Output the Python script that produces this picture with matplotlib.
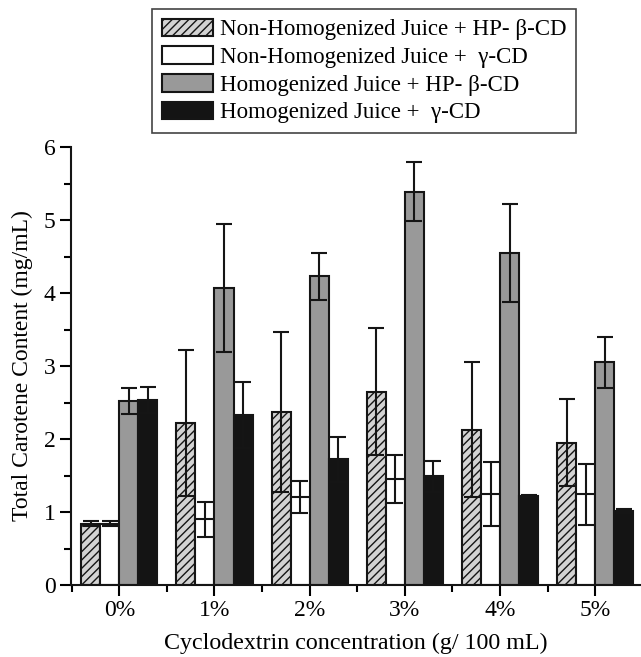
import matplotlib
matplotlib.use("Agg")
import matplotlib.pyplot as plt
import numpy as np
from matplotlib.patches import Patch
from matplotlib.ticker import MultipleLocator, FixedLocator

plt.rcParams['font.family'] = ['Liberation Serif', 'DejaVu Serif']
plt.rcParams['hatch.color'] = '#3a3a3a'
plt.rcParams['hatch.linewidth'] = 1.0

categories = ['0%', '1%', '2%', '3%', '4%', '5%']
series_names = ['Non-Homogenized Juice + HP- \u03b2-CD',
                'Non-Homogenized Juice +  \u03b3-CD',
                'Homogenized Juice + HP- \u03b2-CD',
                'Homogenized Juice +  \u03b3-CD']

nonhomo_hpb = [0.84, 2.22, 2.37, 2.65, 2.13, 1.95]
nonhomo_hpb_err = [0.03, 1.00, 1.10, 0.87, 0.92, 0.60]
nonhomo_g = [0.84, 0.90, 1.21, 1.45, 1.25, 1.24]
nonhomo_g_err = [0.03, 0.24, 0.22, 0.33, 0.44, 0.42]
homo_hpb = [2.52, 4.07, 4.23, 5.39, 4.55, 3.05]
homo_hpb_err = [0.18, 0.88, 0.32, 0.40, 0.67, 0.35]
homo_g = [2.53, 2.33, 1.72, 1.49, 1.22, 1.01]
homo_g_err = [0.18, 0.45, 0.31, 0.21, 0.01, 0.03]

values = [nonhomo_hpb, nonhomo_g, homo_hpb, homo_g]
errors = [nonhomo_hpb_err, nonhomo_g_err, homo_hpb_err, homo_g_err]
faces = ['#d3d3d3', 'white', '#999999', '#141414']
hatches = ['////', None, None, None]
offsets = [-0.3, -0.1, 0.1, 0.3]
width = 0.2

fig = plt.figure(figsize=(6.41, 6.57), dpi=100)
ax = fig.add_axes([71/641, 1 - 585/657, 1 - 71/641, (585 - 147)/657])

x = np.arange(len(categories))
handles = []
for vals, errs, fc, h, off, name in zip(values, errors, faces, hatches, offsets, series_names):
    ax.bar(x + off, vals, width, color=fc, edgecolor='#151515', linewidth=1.5,
           hatch=h, zorder=2)
    ax.errorbar(x + off, vals, yerr=errs, fmt='none', ecolor='#151515',
                elinewidth=1.5, capsize=5.5, capthick=1.5, zorder=3)
    handles.append(Patch(facecolor=fc, edgecolor='#151515', linewidth=1.5,
                         hatch=h, label=name))

ax.set_xlim(-0.507, 5.48)
ax.set_ylim(0, 6)
ax.set_xticks(x)
ax.set_xticklabels(categories)
ax.xaxis.set_minor_locator(FixedLocator(np.arange(-0.5, 5.6, 1.0)))
ax.yaxis.set_major_locator(MultipleLocator(1))
ax.yaxis.set_minor_locator(MultipleLocator(0.5))
for s in ['top', 'right']:
    ax.spines[s].set_visible(False)
for s in ['left', 'bottom']:
    ax.spines[s].set_linewidth(1.5)
    ax.spines[s].set_color('#151515')
ax.tick_params(which='major', direction='out', length=8, width=1.5, labelsize=17, pad=3)
ax.tick_params(which='minor', direction='out', length=5, width=1.5)
ax.set_xlabel('Cyclodextrin concentration (g/ 100 mL)', fontsize=17.3, labelpad=8)
ax.set_ylabel('Total Carotene Content (mg/mL)', fontsize=17, labelpad=8)

leg = fig.legend(handles=handles, loc='upper left', bbox_to_anchor=(152/641, 1 - 9/657),
                 fontsize=16.5, frameon=True, fancybox=False, edgecolor='#151515',
                 handlelength=2.25, handleheight=0.8, handletextpad=0.3,
                 labelspacing=0.26, borderpad=0.42, borderaxespad=0)
leg.get_frame().set_linewidth(1.2)

fig.savefig('out.png', dpi=100)
